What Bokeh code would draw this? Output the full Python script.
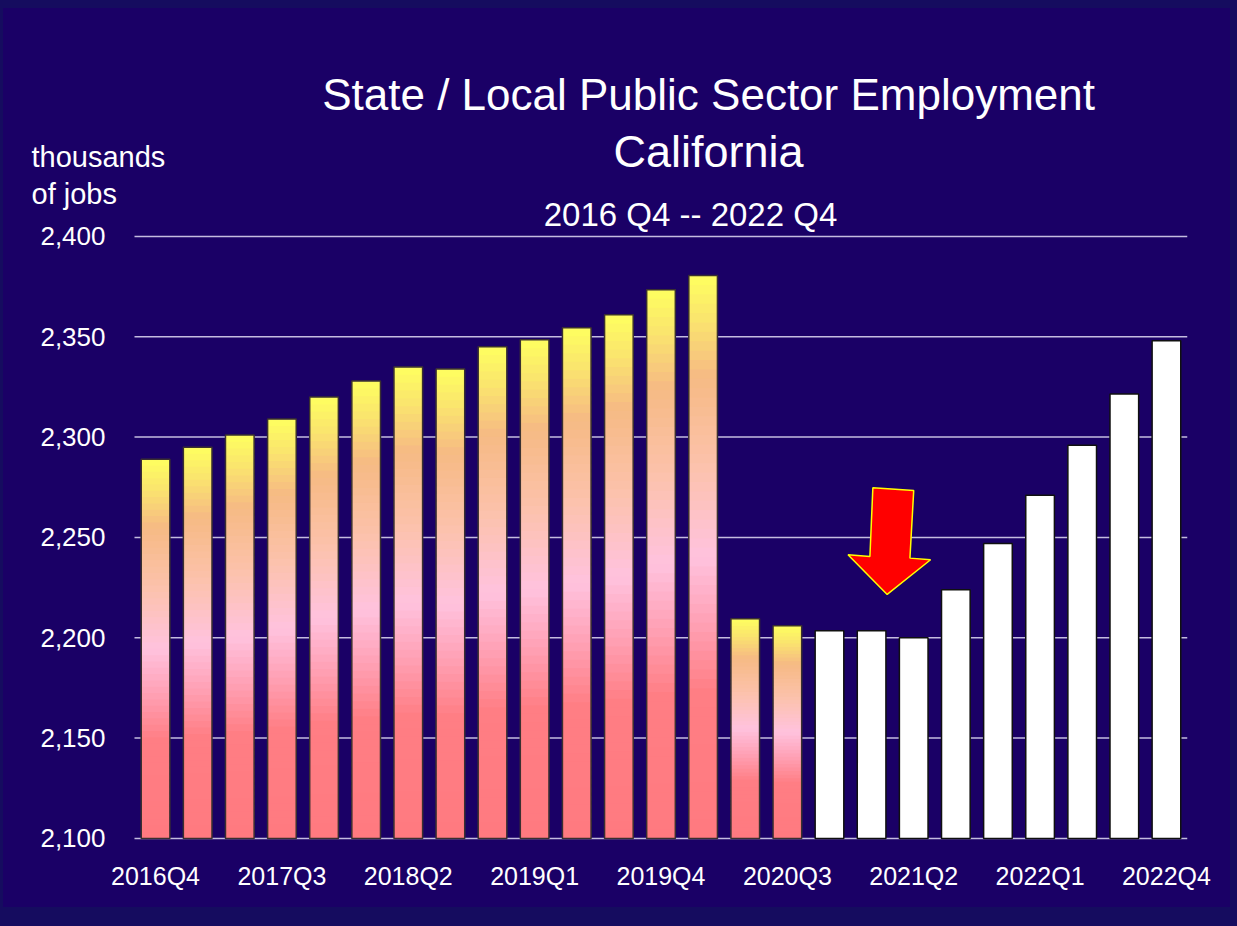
from bokeh.plotting import figure
from bokeh.models import Range1d, FixedTicker
from bokeh.core.properties import value
from bokeh.embed import file_html
from bokeh.resources import INLINE

# ---------------- data ----------------
quarters = ["2016Q4", "2017Q1", "2017Q2", "2017Q3", "2017Q4", "2018Q1", "2018Q2",
            "2018Q3", "2018Q4", "2019Q1", "2019Q2", "2019Q3", "2019Q4", "2020Q1",
            "2020Q2", "2020Q3", "2020Q4", "2021Q1", "2021Q2", "2021Q3", "2021Q4",
            "2022Q1", "2022Q2", "2022Q3", "2022Q4"]
jobs = [2289, 2295, 2301, 2309, 2320, 2328, 2335, 2334, 2345, 2348.5, 2354.5,
        2361, 2373.5, 2380.5, 2209.5, 2206, 2203.5, 2203.5, 2200, 2224, 2247,
        2271, 2296, 2321.5, 2348]
n_gradient = 16          # bars 2016Q4 .. 2020Q3 drawn with gradient
shown_ticks = [0, 3, 6, 9, 12, 15, 18, 21, 24]
y_ticks = [2100, 2150, 2200, 2250, 2300, 2350, 2400]
base = 2100
title1 = "State / Local Public Sector Employment"
title2 = "California"
subtitle = "2016 Q4 -- 2022 Q4"
unit1 = "thousands"
unit2 = "of jobs"

FONT = "Liberation Sans"
BG = "#1a0066"
BAND = "#150c5f"
GRID = "#c4bce0"

p = figure(width=1227, height=899,
           x_range=Range1d(-3.61, 24.5), y_range=Range1d(2093.0, 2513.6),
           y_axis_location=None,
           output_backend="svg", toolbar_location=None,
           min_border_left=0, min_border_right=43,
           min_border_top=0, min_border_bottom=55,
           background_fill_color=None, border_fill_color=None,
           outline_line_color=None)
p.grid.visible = False

# ---------------- grid lines and value labels ----------------
n_t = len(y_ticks)
p.segment(x0=[-0.5] * n_t, x1=[24.5] * n_t, y0=y_ticks, y1=y_ticks,
          line_color=GRID, line_width=1.5)
p.text(x=[-0.5] * n_t, y=y_ticks, text=[f"{v:,}" for v in y_ticks],
       x_offset=-29, text_align="right", text_baseline="middle",
       text_color="white", text_font=value(FONT), text_font_size="26px")

# ---------------- gradient bars ----------------
stops = [(0.00, (255, 255, 96)), (0.08, (250, 228, 110)), (0.18, (246, 186, 132)),
         (0.34, (252, 194, 172)), (0.50, (255, 194, 222)), (0.62, (255, 160, 180)),
         (0.74, (255, 126, 132)), (1.00, (255, 122, 128))]

def grad(t):
    for (t0, c0), (t1, c1) in zip(stops[:-1], stops[1:]):
        if t <= t1:
            f = (t - t0) / (t1 - t0) if t1 > t0 else 0
            c = [round(a + (b - a) * f) for a, b in zip(c0, c1)]
            return "#%02x%02x%02x" % tuple(c)
    return "#%02x%02x%02x" % stops[-1][1]

N = 60
gx, gt, gb, gc = [], [], [], []
for i in range(n_gradient):
    v = jobs[i]
    for k in range(N):
        t0, t1 = k / N, (k + 1) / N
        gx.append(i)
        gt.append(v - (v - base) * t0)
        gb.append(v - (v - base) * min(1.0, t1 + 0.6 / N))
        gc.append(grad((t0 + t1) / 2))
p.vbar(x=gx, top=gt, bottom=gb, width=0.68, fill_color=gc, line_color=None)
p.vbar(x=list(range(n_gradient)), top=jobs[:n_gradient], bottom=base, width=0.68,
       fill_alpha=0, line_color="#3a3030", line_width=1.5)

# ---------------- white bars ----------------
wx = list(range(n_gradient, len(jobs)))
p.vbar(x=wx, top=jobs[n_gradient:], bottom=base, width=0.68,
       fill_color="white", line_color="#101010", line_width=1.5)

# ---------------- arrow ----------------
arrow_x = [17.03, 18.00, 17.91, 18.40, 17.37, 16.44, 16.96]
arrow_y = [2274.8, 2273.4, 2239.7, 2238.9, 2221.6, 2241.4, 2240.5]
p.patch(arrow_x, arrow_y, fill_color="#ff0000", line_color="#ffff00", line_width=1.5)

# ---------------- category axis ----------------
p.xaxis.ticker = FixedTicker(ticks=shown_ticks)
p.xaxis.major_label_overrides = {i: quarters[i] for i in shown_ticks}
p.xaxis.axis_line_color = None
p.xaxis.major_tick_line_color = None
p.xaxis.minor_tick_line_color = None
p.xaxis.major_label_text_color = "white"
p.xaxis.major_label_text_font = FONT
p.xaxis.major_label_text_font_size = "25px"
p.xaxis.major_label_standoff = 3

# ---------------- titles ----------------
def lab(text, x, y, size, align="center"):
    p.text(x=[x], y=[y], text=[text], text_align=align, text_baseline="alphabetic",
           text_color="white", text_font=value(FONT), text_font_size=size)

lab(title1, 13.13, 2470.8, "44px")
lab(title2, 13.13, 2442.4, "45px")
lab(subtitle, 12.70, 2411.0, "33px")
lab(unit1, -2.945, 2439.4, "29px", "left")
lab(unit2, -2.945, 2421.4, "29px", "left")

html = file_html(p, INLINE)
html = html.replace("<html", '<html style="background:%s"' % BAND, 1)
i = html.rfind("<body>")
if i >= 0:
    html = (html[:i] + '<body style="margin:8px 0 0 3px; width:1227px; height:899px; '
            'background:%s;">' % BG + html[i + 6:])
open("out.html", "w").write(html)
